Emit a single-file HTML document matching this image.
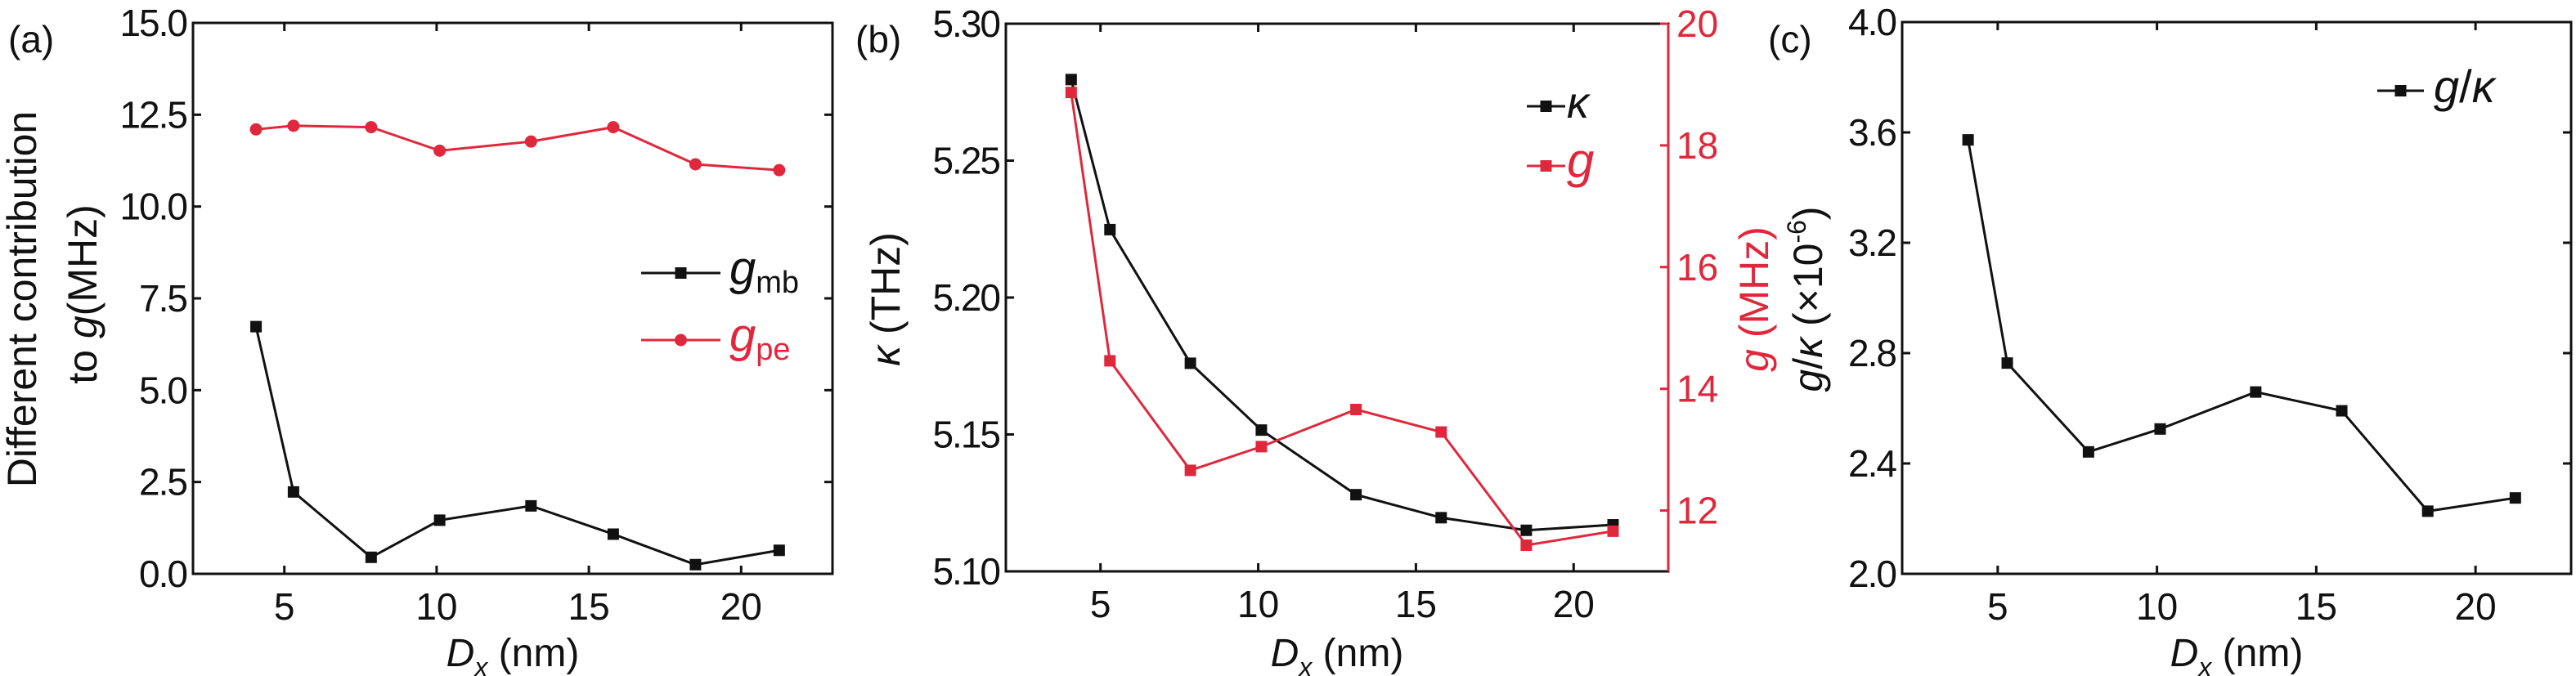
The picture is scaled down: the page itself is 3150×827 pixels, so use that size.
<!DOCTYPE html>
<html><head><meta charset="utf-8"><style>
html,body{margin:0;padding:0;background:#fff;}
svg{display:block;}
text{font-family:"Liberation Sans",sans-serif;}
</style></head><body>
<svg id="fig" width="3150" height="827" viewBox="0 0 3150 827" xmlns="http://www.w3.org/2000/svg"></svg>
<script>
// ---- data ----
const dxValues = [4.07, 5.3, 7.85, 10.1, 13.1, 15.8, 18.5, 21.25];
const gMb = [6.73, 2.23, 0.45, 1.46, 1.85, 1.08, 0.25, 0.64];
const gPe = [12.10, 12.20, 12.16, 11.52, 11.77, 12.16, 11.15, 10.99];
const kappaValues = [5.2796, 5.2248, 5.176, 5.1516, 5.128, 5.1196, 5.115, 5.117];
const gValues = [18.87, 14.46, 12.66, 13.05, 13.66, 13.29, 11.43, 11.66];
const gOverKappa = [3.573, 2.764, 2.442, 2.525, 2.659, 2.591, 2.227, 2.275];
const xTicks = [5, 10, 15, 20];
const aTicks = ["0.0", "2.5", "5.0", "7.5", "10.0", "12.5", "15.0"];
const bTicks = ["5.10", "5.15", "5.20", "5.25", "5.30"];
const bRightTicks = ["12", "14", "16", "18", "20"];
const cTicks = ["2.0", "2.4", "2.8", "3.2", "3.6", "4.0"];

const NS = "http://www.w3.org/2000/svg";
const svg = document.getElementById("fig");
const RED = "#e0283c";
function mk(tag, attrs, parent) {
  const e = document.createElementNS(NS, tag);
  for (const k in attrs) e.setAttribute(k, attrs[k]);
  (parent || svg).appendChild(e);
  return e;
}
function scale(d0, d1, r0, r1) { return v => r0 + (v - d0) * (r1 - r0) / (d1 - d0); }

function panel(name, L, R, T, B, yMin, yMax, yTicks, ticksRightSide) {
  const g = mk("g", {});
  
  
  const xs = scale(2, 23, L, R), ys = scale(yMin, yMax, B, T);
  const frame = mk("rect", {x: L, y: T, width: R - L, height: B - T, fill: "none", stroke: "#111", "stroke-width": 3}, g);
  
  
  xTicks.forEach(t => {
    const x = xs(t);
    mk("line", {x1: x, x2: x, y1: B, y2: B - 10, stroke: "#111", "stroke-width": 3}, g);
    mk("line", {x1: x, x2: x, y1: T, y2: T + 10, stroke: "#111", "stroke-width": 3}, g);
    const lb = mk("text", {x: x, y: B + 56, "font-size": 46, "text-anchor": "middle", fill: "#111"}, g);
    lb.textContent = t;
    
    
  });
  yTicks.forEach(t => {
    const y = ys(parseFloat(t));
    mk("line", {x1: L, x2: L + 10, y1: y, y2: y, stroke: "#111", "stroke-width": 3}, g);
    if (!ticksRightSide) mk("line", {x1: R, x2: R - 10, y1: y, y2: y, stroke: "#111", "stroke-width": 3}, g);
    const lb = mk("text", {x: L - 8, y: y + 16, "font-size": 46, "text-anchor": "end", fill: "#111", "letter-spacing": "-2"}, g);
    lb.textContent = t;
    
    
  });
  const xl = mk("text", {x: (L + R) / 2, y: 815, "font-size": 48, "text-anchor": "middle", fill: "#111"}, g);
  xl.innerHTML = '<tspan font-style="italic">D</tspan><tspan font-style="italic" font-size="32" dy="12">x</tspan><tspan dy="-12"> (nm)</tspan>';
  
  
  return {g, xs, ys};
}

function series(p, xsArr, ysArr, ys, color, marker, name) {
  const g = mk("g", {}, p.g);
  
  
  const pts = xsArr.map((x, i) => [p.xs(x), ys(ysArr[i])]);
  mk("polyline", {points: pts.map(q => q.join(",")).join(" "), fill: "none", stroke: color, "stroke-width": 3}, g);
  pts.forEach(q => {
    let m;
    if (marker === "square") m = mk("rect", {x: q[0] - 7, y: q[1] - 7, width: 14, height: 14, fill: color}, g);
    else m = mk("circle", {cx: q[0], cy: q[1], r: 7.5, fill: color}, g);
    
    
  });
}
function legend(parent, x1, x2, y, color, marker, html, tx, name, fs) {
  const g = mk("g", {}, parent);
  
  
  mk("line", {x1: x1, x2: x2, y1: y, y2: y, stroke: color, "stroke-width": 3}, g);
  const mx = (x1 + x2) / 2;
  if (marker === "square") mk("rect", {x: mx - 7, y: y - 7, width: 14, height: 14, fill: color}, g);
  else mk("circle", {cx: mx, cy: y, r: 7.5, fill: color}, g);
  const t = mk("text", {x: tx, y: y + 14, "font-size": fs, fill: color}, g);
  t.innerHTML = html;
}
function label(x, y, txt, name) {
  const t = mk("text", {x: x, y: y, "font-size": 46, fill: "#111"});
  t.textContent = txt;
  
  
}

// Panel (a)
const pa = panel("panel-a", 236, 1018, 28, 702, 0, 15, aTicks, false);
series(pa, dxValues, gMb, pa.ys, "#111", "square", "series-g-mb");
series(pa, dxValues, gPe, pa.ys, RED, "circle", "series-g-pe");
legend(pa.g, 784, 881, 334, "#111", "square", '<tspan font-style="italic" font-size="58">g</tspan><tspan font-size="38" dy="10">mb</tspan>', 892, "legend-g-mb", 58);
legend(pa.g, 784, 881, 416, RED, "circle", '<tspan font-style="italic" font-size="58">g</tspan><tspan font-size="38" dy="10">pe</tspan>', 892, "legend-g-pe", 58);
const ya = mk("text", {transform: "translate(44,366) rotate(-90)", "font-size": 50, "text-anchor": "middle", fill: "#111"});
ya.textContent = "Different contribution";


const ya2 = mk("text", {transform: "translate(118,360) rotate(-90)", "font-size": 50, "text-anchor": "middle", fill: "#111"});
ya2.innerHTML = 'to <tspan font-style="italic">g</tspan>(MHz)';


label(10, 64, "(a)", "panel-label-a");

// Panel (b)
const pb = panel("panel-b", 1230, 2040, 29, 699, 5.10, 5.30, bTicks, true);
const ysR = scale(11, 20, 699, 29);
series(pb, dxValues, kappaValues, pb.ys, "#111", "square", "series-kappa");
series(pb, dxValues, gValues, ysR, RED, "square", "series-g");
mk("line", {x1: 2040, x2: 2040, y1: 29, y2: 699, stroke: RED, "stroke-width": 3}, pb.g);
bRightTicks.forEach(t => {
  const y = ysR(parseFloat(t));
  mk("line", {x1: 2040, x2: 2030, y1: y, y2: y, stroke: RED, "stroke-width": 3}, pb.g);
  const lb = mk("text", {x: 2050, y: y + 16, "font-size": 46, fill: RED}, pb.g);
  lb.textContent = t;
  
  
});
legend(pb.g, 1867, 1914, 130, "#111", "square", '<tspan font-style="italic">κ</tspan>', 1916, "legend-kappa", 54);
legend(pb.g, 1867, 1914, 203, RED, "square", '<tspan font-style="italic">g</tspan>', 1916, "legend-g", 60);
const yb = mk("text", {transform: "translate(1100,366) rotate(-90)", "font-size": 50, "text-anchor": "middle", fill: "#111"});
yb.innerHTML = '<tspan font-style="italic">κ</tspan> (THz)';


const yb2 = mk("text", {transform: "translate(2162,366) rotate(-90)", "font-size": 50, "text-anchor": "middle", fill: RED});
yb2.innerHTML = '<tspan font-style="italic">g</tspan> (MHz)';


label(1046, 64, "(b)", "panel-label-b");

// Panel (c)
const pc = panel("panel-c", 2326, 3144, 27, 702, 2.0, 4.0, cTicks, false);
series(pc, dxValues, gOverKappa, pc.ys, "#111", "square", "series-g-over-kappa");
legend(pc.g, 2907, 2964, 111, "#111", "square", '<tspan font-style="italic">g</tspan>/<tspan font-style="italic">κ</tspan>', 2976, "legend-g-over-kappa", 56);
const yc = mk("text", {transform: "translate(2228,366) rotate(-90)", "font-size": 50, "text-anchor": "middle", fill: "#111"});
yc.innerHTML = '<tspan font-style="italic">g</tspan>/<tspan font-style="italic">κ</tspan> (×10<tspan font-size="32" dy="-20">-6</tspan><tspan dy="20">)</tspan>';


label(2162, 64, "(c)", "panel-label-c");
</script>
</body></html>
